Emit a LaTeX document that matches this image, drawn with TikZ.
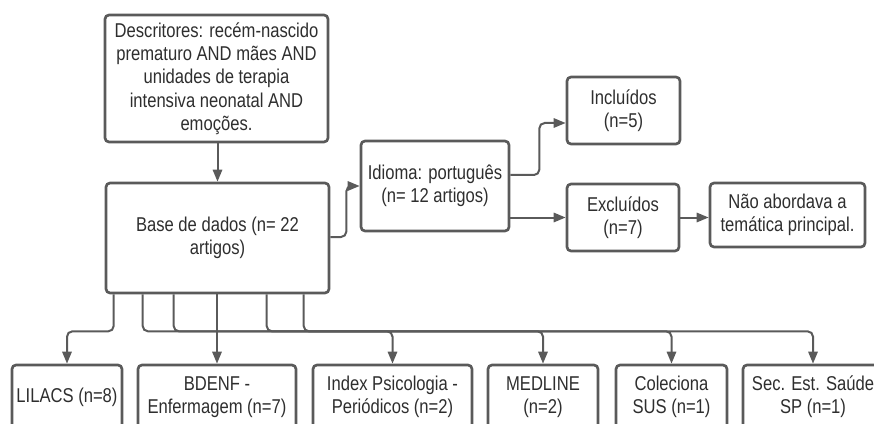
\documentclass[tikz,border=0pt]{standalone}
\usepackage{fontspec}
\setmainfont{Liberation Sans}[FakeStretch=0.83]
\usetikzlibrary{arrows.meta,calc}
\definecolor{edge}{HTML}{5A5A5A}
\definecolor{txt}{HTML}{2E2E2E}
\begin{document}
\begin{tikzpicture}[x=0.75pt,y=-0.75pt,
  box/.style={draw=edge, line width=2pt, rounded corners=3pt, align=center, text=txt,
    font=\fontsize{15}{17.5}\selectfont, inner sep=0pt, anchor=center},
  conn/.style={draw=edge, line width=1.5pt, rounded corners=4pt, -{Triangle[length=9pt,width=7pt]}}]
\useasboundingbox (0,0) rectangle (874,424);
\clip (0,0) rectangle (874,424);
\node[box, minimum width=167.25pt, minimum height=95.25pt] (desc) at (216.5,78.5)
  {Descritores: recém-nascido\\prematuro AND mães AND\\unidades de terapia\\intensiva neonatal AND\\emoções.};
\node[box, minimum width=167.25pt, minimum height=82.5pt] (base) at (217.5,238)
  {Base de dados (n= 22\\artigos)};
\node[box, minimum width=111pt, minimum height=67.5pt] (idioma) at (435,186)
  {Idioma: português\\(n= 12 artigos)};
\node[box, minimum width=84.75pt, minimum height=50.25pt] (incl) at (623.5,110.5)
  {Incluídos\\(n=5)};
\node[box, minimum width=84pt, minimum height=50.25pt] (excl) at (623,217.5)
  {Excluídos\\(n=7)};
\node[box, minimum width=116.25pt, minimum height=48pt] (nao) at (787.5,215)
  {Não abordava a\\temática principal.};
\node[box, minimum width=82.5pt, minimum height=48pt] (lilacs) at (67,397)
  {LILACS (n=8)};
\node[box, minimum width=118.5pt, minimum height=48pt] (bdenf) at (217,397)
  {BDENF -\\Enfermagem (n=7)};
\node[box, minimum width=119.25pt, minimum height=48pt] (index) at (392.5,397)
  {Index Psicologia -\\Periódicos (n=2)};
\node[box, minimum width=82.5pt, minimum height=48pt] (medline) at (543,397)
  {MEDLINE\\(n=2)};
\node[box, minimum width=83.25pt, minimum height=48pt] (colec) at (671.5,397)
  {Coleciona\\SUS (n=1)};
\node[box, minimum width=105pt, minimum height=48pt] (sec) at (813,397)
  {Sec. Est. Saúde\\SP (n=1)};

\draw[conn] (base.north |- desc.south) -- (base.north);
\draw[conn] ($(base.east)+(0,-1)$) -- ++(16,0) |- (idioma.west);
\draw[conn] ($(idioma.east)+(0,-11)$) -- ++(29,0) |- ($(incl.west)+(0,12.5)$);
\draw[conn] (idioma.east |- excl.west) -- (excl.west);
\draw[conn] (excl.east) -- (excl.east -| nao.west);

\draw[conn] ($(base.south west)+(9,0)$) -- ++(0,37) -| (lilacs.north);
\draw[conn] (base.south -| bdenf.north) -- (bdenf.north);
\draw[conn] ($(base.south west)+(38,0)$) -- ++(0,37) -| (index.north);
\draw[conn] ($(base.south west)+(69,0)$) -- ++(0,37) -| (medline.north);
\draw[conn] ($(base.south west)+(162,0)$) -- ++(0,37) -| (colec.north);
\draw[conn] ($(base.south west)+(199,0)$) -- ++(0,37) -| (sec.north);
\end{tikzpicture}
\end{document}
